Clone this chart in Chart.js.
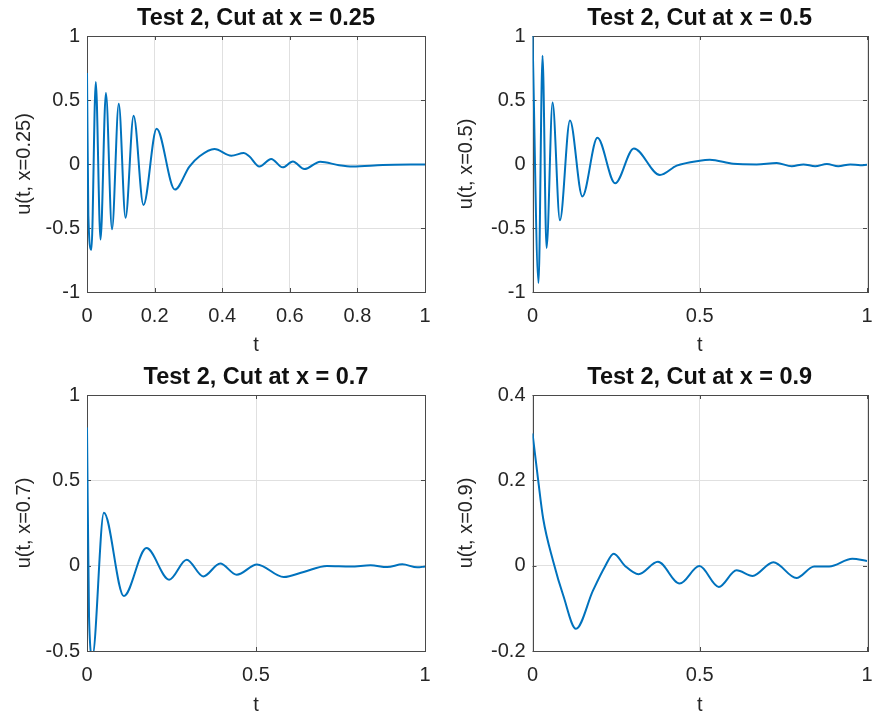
<!DOCTYPE html>
<html>
<head>
<meta charset="utf-8">
<script src="https://cdn.jsdelivr.net/npm/chart.js@4.4.1/dist/chart.umd.min.js"></script>
<style>
  body { margin: 0; background: #fff; }
  canvas { position: absolute; }
</style>
</head>
<body>
<canvas id="c1" width="437" height="358" style="left:0;top:0"></canvas>
<canvas id="c2" width="437" height="358" style="left:437px;top:0"></canvas>
<canvas id="c3" width="437" height="359" style="left:0;top:358px"></canvas>
<canvas id="c4" width="437" height="359" style="left:437px;top:358px"></canvas>
<script>
// cut at x = 0.25
const t1 = [0, 0.004, 0.013, 0.026, 0.040, 0.056, 0.074, 0.094, 0.114, 0.138, 0.167, 0.206, 0.26, 0.303, 0.333, 0.377, 0.427, 0.464, 0.48, 0.51, 0.545, 0.579, 0.609, 0.643, 0.69, 0.746, 0.786, 0.875, 1.0];
const u1 = [0.71, -0.4, -0.67, 0.64, -0.59, 0.555, -0.51, 0.47, -0.42, 0.377, -0.32, 0.276, -0.20, -0.02, 0.06, 0.117, 0.065, 0.086, 0.06, -0.02, 0.04, -0.026, 0.02, -0.04, 0.018, -0.01, -0.02, -0.008, -0.003];
// cut at x = 0.5
const t2 = [0, 0.018, 0.03, 0.042, 0.06, 0.082, 0.112, 0.149, 0.194, 0.247, 0.303, 0.381, 0.431, 0.5, 0.53, 0.6, 0.67, 0.73, 0.775, 0.81, 0.845, 0.88, 0.914, 0.95, 0.98, 1.0];
const u2 = [1.0, -0.93, 0.846, -0.656, 0.48, -0.44, 0.34, -0.253, 0.205, -0.15, 0.122, -0.086, -0.013, 0.026, 0.033, 0.002, -0.003, 0.008, -0.018, -0.003, -0.018, 0, -0.018, -0.003, -0.01, -0.006];
// cut at x = 0.7
const t3 = [0, 0.006, 0.016, 0.05, 0.109, 0.176, 0.243, 0.295, 0.344, 0.394, 0.443, 0.503, 0.582, 0.641, 0.71, 0.78, 0.839, 0.888, 0.933, 0.977, 1.0];
const u3 = [0.81, -0.3, -0.53, 0.31, -0.178, 0.103, -0.082, 0.035, -0.063, 0.012, -0.053, 0.007, -0.067, -0.037, -0.002, -0.005, 0.002, -0.008, 0.008, -0.01, -0.005];
// cut at x = 0.9
const t4 = [0, 0.017, 0.032, 0.062, 0.092, 0.13, 0.181, 0.216, 0.243, 0.276, 0.317, 0.375, 0.44, 0.499, 0.557, 0.61, 0.658, 0.72, 0.789, 0.842, 0.887, 0.956, 1.0];
const u4 = [0.31, 0.2, 0.11, 0.01, -0.07, -0.148, -0.058, -0.003, 0.028, 0.0, -0.02, 0.009, -0.042, -0.001, -0.05, -0.011, -0.024, 0.008, -0.029, -0.002, -0.002, 0.016, 0.011];

const xTicksFine = [0, 0.2, 0.4, 0.6, 0.8, 1];
const xTicksCoarse = [0, 0.5, 1];
const yTicks1 = [-1, -0.5, 0, 0.5, 1];
const yTicks3 = [-0.5, 0, 0.5, 1];
const yTicks4 = [-0.2, 0, 0.2, 0.4];

const titles = ['Test 2, Cut at x = 0.25', 'Test 2, Cut at x = 0.5', 'Test 2, Cut at x = 0.7', 'Test 2, Cut at x = 0.9'];
const yLabels = ['u(t, x=0.25)', 'u(t, x=0.5)', 'u(t, x=0.7)', 'u(t, x=0.9)'];

const FONT = '"Liberation Sans", Arial, Helvetica, sans-serif';
const TXT = '#262626';
const AXIS = '#4a4a4a';
const TITLE_SIZE = 23.5;

// box round the axes + inward ticks, like matlab
const boxPlugin = {
    id: 'box',
    beforeDatasetsDraw(chart) {
        const {ctx, chartArea: a, scales} = chart;
        ctx.save();
        ctx.strokeStyle = AXIS;
        ctx.lineWidth = 1;
        ctx.beginPath();
        scales.x.ticks.forEach(tk => {
            const px = Math.round(scales.x.getPixelForValue(tk.value)) + 0.5;
            ctx.moveTo(px, a.bottom); ctx.lineTo(px, a.bottom - 4);
            ctx.moveTo(px, a.top); ctx.lineTo(px, a.top + 4);
        });
        scales.y.ticks.forEach(tk => {
            const py = Math.round(scales.y.getPixelForValue(tk.value)) + 0.5;
            ctx.moveTo(a.left, py); ctx.lineTo(a.left + 4, py);
            ctx.moveTo(a.right, py); ctx.lineTo(a.right - 4, py);
        });
        ctx.stroke();
        ctx.strokeRect(Math.round(a.left) + 0.5, Math.round(a.top) + 0.5,
            Math.round(a.right - a.left), Math.round(a.bottom - a.top));
        ctx.restore();
    }
};

function makeChart(id, i, t, u, xTicks, yTicks, box) {
    const canvas = document.getElementById(id);
    const W = canvas.width, H = canvas.height;
    const pts = t.map((v, k) => ({x: v, y: u[k]}));
    const lh = TITLE_SIZE * 1.2;
    new Chart(canvas.getContext('2d'), {
        type: 'line',
        data: {
            datasets: [{
                data: pts,
                borderColor: '#0072BD',
                borderWidth: 2,
                pointRadius: 0,
                fill: false,
                cubicInterpolationMode: 'monotone'
            }]
        },
        options: {
            responsive: false,
            animation: false,
            events: [],
            layout: { padding: {left: 0, top: 0, right: W - box.right, bottom: 0} },
            plugins: {
                legend: { display: false },
                tooltip: { enabled: false },
                title: {
                    display: true,
                    fullSize: false,
                    text: titles[i],
                    color: '#111',
                    font: { family: FONT, size: TITLE_SIZE, weight: 'bold', lineHeight: 1.2 },
                    padding: { top: box.titleTop, bottom: box.top - box.titleTop - lh }
                }
            },
            scales: {
                x: {
                    type: 'linear',
                    min: 0, max: 1,
                    afterBuildTicks: s => { s.ticks = xTicks.map(v => ({value: v})); },
                    afterFit: s => { s.height = H - box.bottom; s.paddingLeft = 0; s.paddingRight = 0; },
                    grid: { color: '#e0e0e0', drawTicks: false },
                    border: { display: false },
                    ticks: {
                        autoSkip: false, maxRotation: 0, padding: 12,
                        color: TXT, font: { family: FONT, size: 20 },
                        callback: v => String(v)
                    },
                    title: {
                        display: true, text: 't', color: TXT,
                        font: { family: FONT, size: 20, lineHeight: 1.2 },
                        padding: { top: 0, bottom: box.xTitlePad }
                    }
                },
                y: {
                    min: yTicks[0], max: yTicks[yTicks.length - 1],
                    afterBuildTicks: s => { s.ticks = yTicks.map(v => ({value: v})); },
                    afterFit: s => { s.width = box.left; s.paddingTop = 0; s.paddingBottom = 0; },
                    grid: { color: '#e0e0e0', drawTicks: false },
                    border: { display: false },
                    ticks: {
                        autoSkip: false, padding: 7,
                        color: TXT, font: { family: FONT, size: 20 },
                        callback: v => String(v)
                    },
                    title: {
                        display: true, text: yLabels[i], color: TXT,
                        font: { family: FONT, size: 20, lineHeight: 1.2 },
                        padding: { top: box.yTitlePad, bottom: 0 }
                    }
                }
            }
        },
        plugins: [boxPlugin]
    });
}

makeChart('c1', 0, t1, u1, xTicksFine, yTicks1,
    {left: 87, right: 425, top: 36, bottom: 292, titleTop: 4, xTitlePad: 1, yTitlePad: 12});
makeChart('c2', 1, t2, u2, xTicksCoarse, yTicks1,
    {left: 95.5, right: 430, top: 36, bottom: 292, titleTop: 4, xTitlePad: 1, yTitlePad: 17});
makeChart('c3', 2, t3, u3, xTicksCoarse, yTicks3,
    {left: 87, right: 425, top: 37, bottom: 293, titleTop: 5.5, xTitlePad: 0, yTitlePad: 12});
makeChart('c4', 3, t4, u4, xTicksCoarse, yTicks4,
    {left: 95.5, right: 430, top: 37, bottom: 293, titleTop: 5.5, xTitlePad: 0, yTitlePad: 17});
</script>
</body>
</html>
